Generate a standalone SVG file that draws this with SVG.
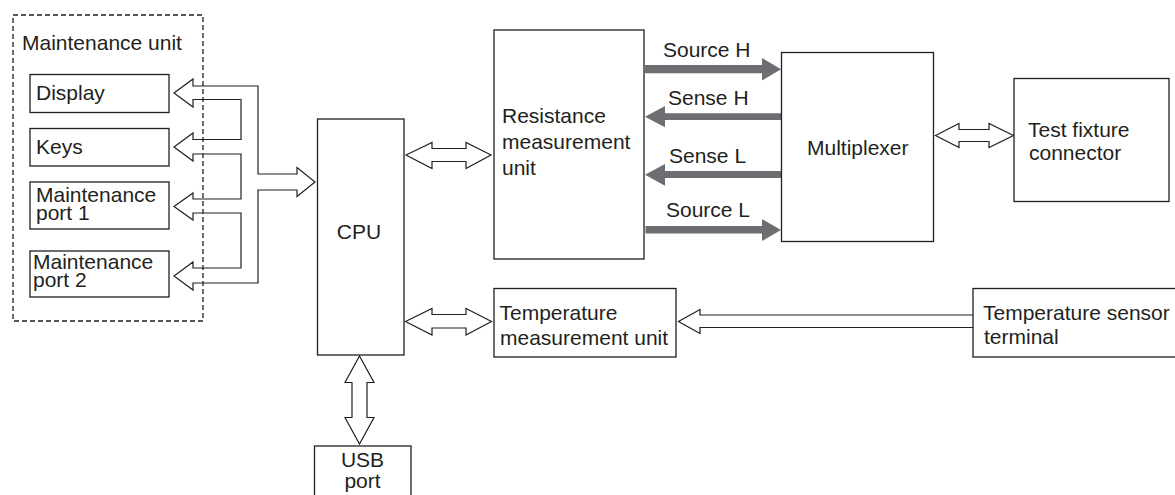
<svg xmlns="http://www.w3.org/2000/svg" width="1175" height="495" viewBox="0 0 1175 495">
<style>
.box{fill:#fff;stroke:#231f20;stroke-width:1.3}
.dash{fill:none;stroke:#231f20;stroke-width:1.3;stroke-dasharray:5 3}
.hol{fill:#fff;stroke:#231f20;stroke-width:1.2;stroke-linejoin:miter}
.gray{fill:#6d6e71;stroke:none}
text{font-family:"Liberation Sans",Arial,sans-serif;font-size:21px;fill:#231f20}
.mid{text-anchor:middle}
</style>
<rect width="1175" height="495" fill="#fff"/>
<g id="connectors">
<path class="hol" d="M174,93 L193,79 L193,86 L258,86 L258,174 L297,174 L297,167.5 L315,182 L297,196.5 L297,190 L258,190 L258,283 L193,283 L193,290 L174,276 L193,262 L193,268 L241,268 L241,213 L193,213 L193,220 L174,206.5 L193,193 L193,199 L241,199 L241,154 L193,154 L193,161 L174,147 L193,133 L193,139.5 L241,139.5 L241,99.5 L193,99.5 L193,107 Z"/>
<path class="hol" d="M406,155 L432,142.5 L432,148.5 L466,148.5 L466,142.5 L491,155 L466,168.5 L466,161.5 L432,161.5 L432,168.5 Z"/>
<path class="hol" d="M405.5,321.5 L432,308.5 L432,314.5 L466,314.5 L466,308.5 L491.5,321.5 L466,335 L466,328 L432,328 L432,335 Z"/>
<path class="hol" d="M935.5,135.5 L959,123.5 L959,129.5 L989,129.5 L989,123.5 L1013.5,135.5 L989,147.5 L989,141.5 L959,141.5 L959,147.5 Z"/>
<path class="hol" d="M973,315 L700,315 L700,309.5 L678.5,321.5 L700,333.5 L700,327.5 L973,327.5"/>
<path class="hol" d="M359.5,356 L374,382.5 L367,382.5 L367,417.5 L374,417.5 L359.5,444 L345,417.5 L352,417.5 L352,382.5 L345,382.5 Z"/>
<polygon class="gray" points="645,65 762,65 762,58 781,69.2 762,80.5 762,73.3 645,73.3"/>
<polygon class="gray" points="781,113.3 665,113.3 665,106 645,116.7 665,127.3 665,120 781,120"/>
<polygon class="gray" points="781,171 665,171 665,164 645,174.7 665,185.7 665,178 781,178"/>
<polygon class="gray" points="645.5,226 762,226 762,219 781,230 762,241 762,233.5 645.5,233.5"/>
</g>
<g id="maintenance-unit">
<rect class="dash" x="13" y="15" width="190" height="306"/>
<text x="22" y="50">Maintenance unit</text>
</g>
<g id="display">
<rect class="box" x="30" y="74.5" width="139" height="38"/>
<text x="36" y="100">Display</text>
</g>
<g id="keys">
<rect class="box" x="30" y="128.5" width="139" height="37.5"/>
<text x="36" y="154">Keys</text>
</g>
<g id="port1">
<rect class="box" x="30" y="182" width="139" height="47"/>
<text x="36" y="201.5">Maintenance</text>
<text x="36" y="220">port 1</text>
</g>
<g id="port2">
<rect class="box" x="30" y="251" width="139" height="46"/>
<text x="33" y="268.5">Maintenance</text>
<text x="33" y="287">port 2</text>
</g>
<g id="cpu">
<rect class="box" x="317.5" y="119" width="86.5" height="236"/>
<text class="mid" x="359" y="239">CPU</text>
</g>
<g id="resistance">
<rect class="box" x="494" y="30" width="150" height="229"/>
<text x="502" y="123">Resistance</text>
<text x="502" y="149">measurement</text>
<text x="502" y="175">unit</text>
</g>
<g id="labels">
<text x="663" y="57">Source H</text>
<text x="668" y="105">Sense H</text>
<text x="669" y="163">Sense L</text>
<text x="666" y="217">Source L</text>
</g>
<g id="multiplexer">
<rect class="box" x="781.5" y="52.5" width="152" height="189"/>
<text x="807" y="155">Multiplexer</text>
</g>
<g id="test-fixture">
<rect class="box" x="1014" y="78.5" width="155" height="123"/>
<text x="1028" y="137">Test fixture</text>
<text x="1029" y="160">connector</text>
</g>
<g id="temperature-unit">
<rect class="box" x="494" y="288.5" width="182" height="68.5"/>
<text x="499.5" y="320">Temperature</text>
<text x="500" y="345">measurement unit</text>
</g>
<g id="temperature-sensor">
<rect class="box" x="973" y="288.5" width="220" height="68.5"/>
<text x="983" y="320">Temperature sensor</text>
<text x="984" y="344">terminal</text>
</g>
<g id="usb">
<rect class="box" x="314.5" y="446" width="96.5" height="60"/>
<text class="mid" x="362.5" y="467">USB</text>
<text class="mid" x="362.5" y="488">port</text>
</g>
</svg>
